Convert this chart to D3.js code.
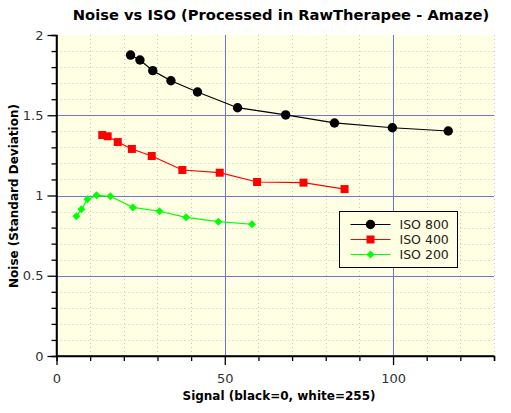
<!DOCTYPE html>
<html>
<head>
<meta charset="utf-8">
<script src="https://cdn.jsdelivr.net/npm/d3@7"></script>
<style>
  body { margin: 0; background: #fff; }
  svg { display: block; font-family: "DejaVu Sans", sans-serif; }
</style>
</head>
<body>
<div id="chart"></div>
<script>
// values
const iso800x = [22.0, 24.8, 28.6, 34.0, 41.9, 53.8, 68.1, 82.6, 99.8, 116.4]
const iso800y = [1.875, 1.844, 1.778, 1.715, 1.645, 1.547, 1.502, 1.452, 1.422, 1.402]
const iso400x = [13.6, 15.2, 18.2, 22.4, 28.3, 37.4, 48.5, 59.6, 73.4, 85.6]
const iso400y = [1.377, 1.369, 1.333, 1.290, 1.246, 1.159, 1.142, 1.084, 1.080, 1.040]
const iso200x = [5.9, 7.4, 9.2, 11.9, 16.0, 22.7, 30.6, 38.5, 48.1, 58.1]
const iso200y = [0.870, 0.914, 0.976, 1.001, 0.995, 0.926, 0.902, 0.864, 0.837, 0.821]

const seriesNames = ['ISO 800', 'ISO 400', 'ISO 200']
const xMajor = [0, 50, 100]
const yMajor = [0, 0.5, 1, 1.5, 2]

const W = 511, H = 413
const margin = {top: 35, right: 17, bottom: 57, left: 56.5}

const series = [
  {name: seriesNames[0], xs: iso800x, ys: iso800y, color: '#000000', shape: 'circle'},
  {name: seriesNames[1], xs: iso400x, ys: iso400y, color: '#ff0000', shape: 'square'},
  {name: seriesNames[2], xs: iso200x, ys: iso200y, color: '#00ff00', shape: 'diamond'}
]

const svg = d3.select('#chart').append('svg')
  .attr('width', W).attr('height', H)

const x = d3.scaleLinear().domain([0, 130]).range([margin.left, W - margin.right])
const y = d3.scaleLinear().domain([0, 2]).range([H - margin.bottom, margin.top])

// plot background
svg.append('rect')
  .attr('x', x(0)).attr('y', y(2))
  .attr('width', x(130) - x(0)).attr('height', y(0) - y(2))
  .attr('fill', '#ffffe3')

// minor dotted grid
const xMinor = d3.range(10, 131, 10).filter(v => !xMajor.includes(v))
const yMinor = d3.range(1, 20).map(v => v / 10).filter(v => !yMajor.includes(v))

svg.append('g').selectAll('line').data(xMinor).join('line')
  .attr('x1', d => Math.round(x(d)) + 0.5).attr('x2', d => Math.round(x(d)) + 0.5)
  .attr('y1', y(2)).attr('y2', y(0))
  .attr('stroke', '#c8c8b4').attr('stroke-dasharray', '1,3')

svg.append('g').selectAll('line').data(yMinor).join('line')
  .attr('y1', d => Math.round(y(d)) + 0.5).attr('y2', d => Math.round(y(d)) + 0.5)
  .attr('x1', x(0)).attr('x2', x(130))
  .attr('stroke', '#c8c8b4').attr('stroke-dasharray', '1,3')

// major blue grid
svg.append('g').selectAll('line').data(xMajor.filter(v => v > 0)).join('line')
  .attr('x1', d => Math.round(x(d)) + 0.5).attr('x2', d => Math.round(x(d)) + 0.5)
  .attr('y1', y(2)).attr('y2', y(0))
  .attr('stroke', '#7070e8').attr('stroke-width', 1)

svg.append('g').selectAll('line').data(yMajor.filter(v => v > 0 && v < 2)).join('line')
  .attr('y1', d => Math.round(y(d)) + 0.5).attr('y2', d => Math.round(y(d)) + 0.5)
  .attr('x1', x(0)).attr('x2', x(130))
  .attr('stroke', '#7070e8').attr('stroke-width', 1)

// axes
const xAxis = svg.append('g')
  .attr('transform', 'translate(0,' + y(0) + ')')
xAxis.call(d3.axisBottom(x).tickValues(xMajor).tickSize(9).tickPadding(9).tickFormat(d3.format('d')))
svg.append('g').attr('transform', 'translate(0,' + y(0) + ')')
  .call(d3.axisBottom(x).tickValues(xMinor).tickSize(5).tickFormat(''))

const yAxis = svg.append('g')
  .attr('transform', 'translate(' + x(0) + ',0)')
yAxis.call(d3.axisLeft(y).tickValues(yMajor).tickSize(9).tickPadding(4).tickFormat(d => d))
svg.append('g').attr('transform', 'translate(' + x(0) + ',0)')
  .call(d3.axisLeft(y).tickValues(yMinor).tickSize(5).tickFormat(''))

svg.selectAll('.domain').attr('stroke', '#000').attr('stroke-width', 1.5)
svg.selectAll('.tick line').attr('stroke', '#000').attr('stroke-width', 1.3)
svg.selectAll('.tick text').attr('font-size', 13).attr('fill', '#333')
  .attr('font-family', '"DejaVu Sans", sans-serif')

// keep axis lines to the plot edges
yAxis.select('.domain').attr('d', 'M0,' + y(0) + 'V' + y(2))
xAxis.select('.domain').attr('d', 'M' + x(0) + ',0H' + x(130))

// series
function marker(sel, shape, color) {
  if (shape === 'circle') {
    sel.append('circle').attr('r', 4.7).attr('fill', color)
  } else if (shape === 'square') {
    sel.append('rect').attr('x', -4).attr('y', -4).attr('width', 8).attr('height', 8).attr('fill', color)
  } else {
    sel.append('path').attr('d', 'M0,-4L4,0L0,4L-4,0Z').attr('fill', color)
  }
}

const line = d3.line().x(d => x(d[0])).y(d => y(d[1]))

series.forEach(s => {
  const pts = s.xs.map((v, i) => [v, s.ys[i]])
  svg.append('path').datum(pts)
    .attr('d', line).attr('fill', 'none')
    .attr('stroke', s.color).attr('stroke-width', 1.2)
  svg.append('g').selectAll('g').data(pts).join('g')
    .attr('transform', d => 'translate(' + x(d[0]) + ',' + y(d[1]) + ')')
    .each(function() { marker(d3.select(this), s.shape, s.color) })
})

// legend
const lg = svg.append('g').attr('transform', 'translate(339.5,211.5)')
lg.append('rect').attr('width', 118).attr('height', 56)
  .attr('fill', '#ffffe3').attr('stroke', '#000').attr('stroke-width', 1)
series.forEach((s, i) => {
  const row = lg.append('g').attr('transform', 'translate(0,' + (13 + i * 15) + ')')
  row.append('line').attr('x1', 11).attr('x2', 51).attr('stroke', s.color).attr('stroke-width', 1.2)
  marker(row.append('g').attr('transform', 'translate(31,0)'), s.shape, s.color)
  row.append('text').attr('x', 60).attr('y', 4.5)
    .attr('font-size', 12.5).attr('fill', '#222').text(s.name)
})

// titles
svg.append('text').attr('x', 281).attr('y', 20)
  .attr('text-anchor', 'middle').attr('font-weight', 'bold').attr('font-size', 14.7)
  .text('Noise vs ISO (Processed in RawTherapee - Amaze)')

svg.append('text').attr('x', 279).attr('y', 400)
  .attr('text-anchor', 'middle').attr('font-weight', 'bold').attr('font-size', 12)
  .text('Signal (black=0, white=255)')

svg.append('text')
  .attr('transform', 'translate(18,196) rotate(-90)')
  .attr('text-anchor', 'middle').attr('font-weight', 'bold').attr('font-size', 12)
  .text('Noise (Standard Deviation)')
</script>
</body>
</html>
